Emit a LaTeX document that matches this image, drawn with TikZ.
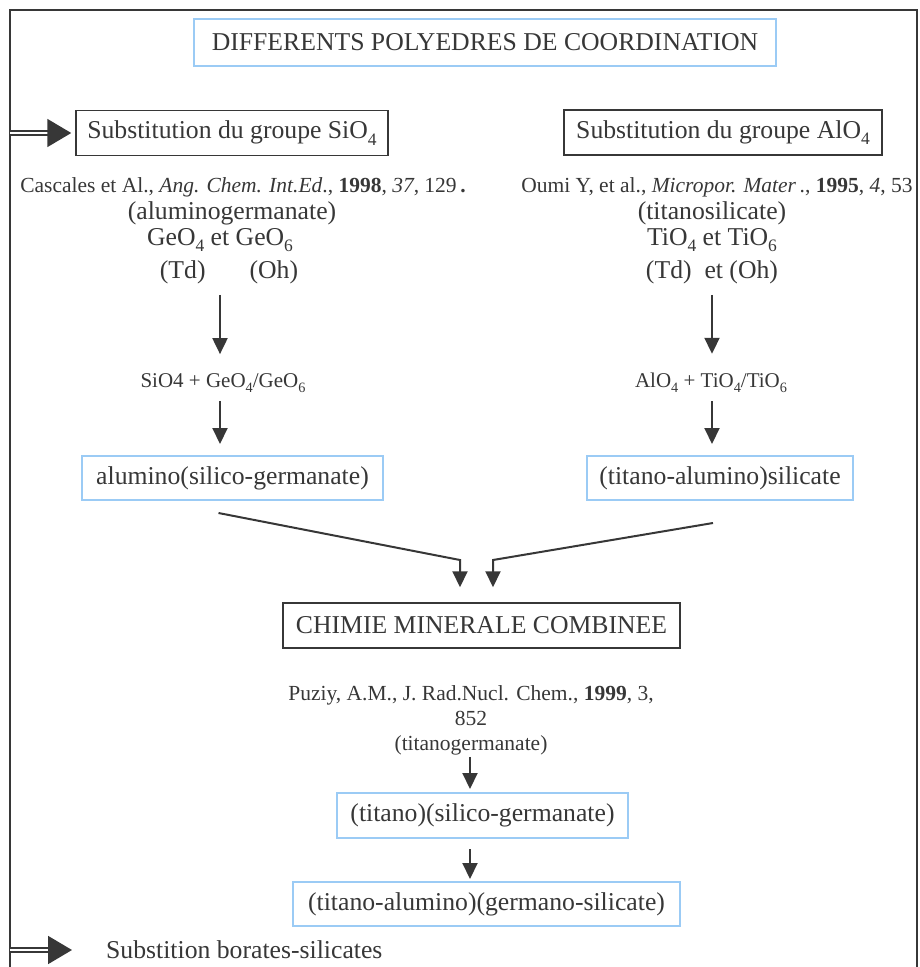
\documentclass[tikz,border=0pt]{standalone}
\usepackage{fontspec}
\setmainfont{Liberation Serif}
\usetikzlibrary{arrows.meta}
\definecolor{ink}{RGB}{55,55,55}
\definecolor{pale}{RGB}{155,203,245}
\newcommand\ind[1]{\raisebox{-0.55ex}{\scalebox{0.68}{#1}}}
\tikzset{
  txt/.style={font=\fontsize{25.7}{30}\selectfont, text=ink, inner sep=0pt},
  cite/.style={font=\fontsize{21.5}{25}\selectfont, text=ink, inner sep=0pt, align=center},
  frm/.style={font=\fontsize{21}{24}\selectfont, text=ink, inner sep=0pt},
  blackbox/.style={txt, draw=ink, line width=1.5pt},
  bluebox/.style={txt, draw=pale, line width=2pt},
  arr/.style={draw=ink, line width=2pt, -{Triangle[width=15pt,length=16pt]}},
  dblarr/.style={draw=ink, line width=1.8pt, double=white, double distance=2pt, -{Triangle[width=28pt,length=24pt]}}
}
\begin{document}
\begin{tikzpicture}[x=1pt,y=-1pt]
\useasboundingbox (0,0) rectangle (919,967);
\clip (0,0) rectangle (919,967);
\draw[ink, line width=2pt] (10,990) -- (10,10) -- (917,10) -- (917,990);

\node[bluebox, minimum width=582pt, minimum height=47pt] (titre) at (485,42.5) {DIFFERENTS POLYEDRES DE COORDINATION};

% colonne SiO4
\node[blackbox, minimum width=312pt, minimum height=45pt] (subSi) at (232,133) {Substitution du groupe SiO\ind{4}};
\node[cite] (citSi) at (243,187) {Cascales et Al., \textit{Ang. Chem. Int.Ed}., \textbf{1998}, \textit{37}, 129\,\textbf{.}};
\node[txt] (aluGe) at (232,213) {(aluminogermanate)};
\node[txt] (geo) at (220,240) {GeO\ind{4} et GeO\ind{6}};
\node[txt] (tdSi) at (229,272) {(Td)\hspace{44pt}(Oh)};
\node[frm] (frmSi) at (223,383) {SiO4 + GeO\ind{4}/GeO\ind{6}};
\node[bluebox, minimum width=301pt, minimum height=44pt] (boxSi) at (232.5,478) {alumino(silico-germanate)};

% colonne AlO4
\node[blackbox, minimum width=318pt, minimum height=45pt] (subAl) at (723,132.5) {Substitution du groupe AlO\ind{4}};
\node[cite] (citAl) at (717,187) {Oumi Y, et al., \textit{Micropor. Mater}\,., \textbf{1995}, \textit{4}, 53};
\node[txt] (tiSi) at (712,213) {(titanosilicate)};
\node[txt] (tio) at (712,240) {TiO\ind{4} et TiO\ind{6}};
\node[txt] (tdAl) at (712,272) {(Td)\ \ et (Oh)};
\node[frm] (frmAl) at (711,383) {AlO\ind{4} + TiO\ind{4}/TiO\ind{6}};
\node[bluebox, minimum width=266pt, minimum height=44pt] (boxAl) at (720,478) {(titano-alumino)silicate};

% partie commune
\node[blackbox, minimum width=397pt, minimum height=45pt] (chim) at (481.5,625.5) {CHIMIE MINERALE COMBINEE};
\node[cite] (puz) at (471,720) {Puziy, A.M., J.\ Rad.Nucl. Chem., \textbf{1999}, 3,\\ 852\\ (titanogermanate)};
\node[bluebox, minimum width=291pt, minimum height=45pt] (tsg) at (482.5,815.5) {(titano)(silico-germanate)};
\node[bluebox, minimum width=387pt, minimum height=44pt] (tag) at (486.5,904) {(titano-alumino)(germano-silicate)};
\node[txt, anchor=west] (bor) at (106,950) {Substition borates-silicates};

\coordinate (axSi) at (220,0);
\coordinate (axAl) at (712,0);
\coordinate (axP) at (470,0);
\coordinate (jSi) at (460,560);
\coordinate (jAl) at (493,560);
\coordinate (bordA) at (10,133);
\coordinate (bordB) at (10,950);

\draw[dblarr, shorten >=4pt] (bordA) -- (subSi.west);
\draw[dblarr, shorten >=34pt] (bordB) -- (bor.west);

\draw[arr, shorten <=11pt, shorten >=19pt] (tdSi.south -| axSi) -- (frmSi.north -| axSi);
\draw[arr, shorten <=8pt, shorten >=11pt] (frmSi.south -| axSi) -- (boxSi.north -| axSi);
\draw[arr, shorten <=11pt, shorten >=19pt] (tdAl.south -| axAl) -- (frmAl.north -| axAl);
\draw[arr, shorten <=8pt, shorten >=11pt] (frmAl.south -| axAl) -- (boxAl.north -| axAl);

\draw[arr, shorten >=15pt] ([xshift=-14pt,yshift=-12pt]boxSi.south) -- (jSi) -- (jSi |- chim.north);
\draw[arr, shorten >=15pt] ([xshift=-7pt,yshift=-22pt]boxAl.south) -- (jAl) -- (jAl |- chim.north);

\draw[arr, shorten <=2pt, shorten >=3pt] (puz.south -| axP) -- (tsg.north -| axP);
\draw[arr, shorten <=10pt, shorten >=2pt] (tsg.south -| axP) -- (tag.north -| axP);
\end{tikzpicture}
\end{document}
